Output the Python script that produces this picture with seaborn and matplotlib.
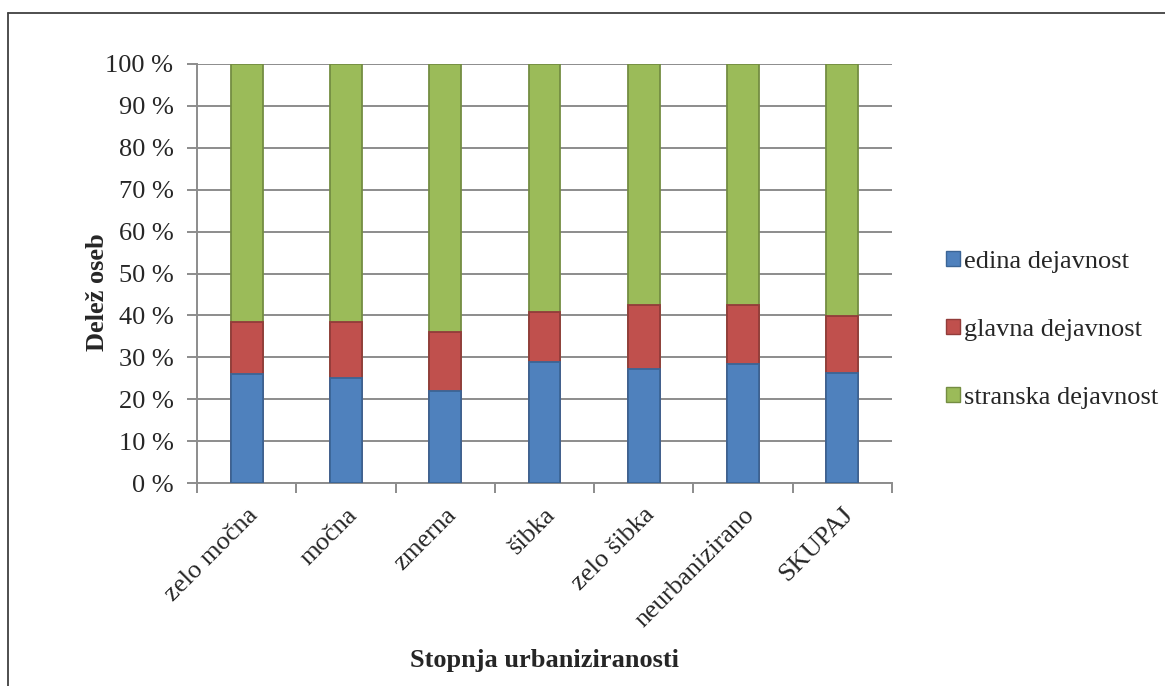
import matplotlib
matplotlib.use("Agg")
import matplotlib.pyplot as plt
from matplotlib.patches import Patch
from matplotlib.lines import Line2D
from matplotlib.ticker import FixedLocator
import seaborn as sns
import pandas as pd
import numpy as np

# Data: share of persons (%) by degree of urbanisation
categories = ["zelo močna", "močna", "zmerna", "šibka", "zelo šibka", "neurbanizirano", "SKUPAJ"]
edina = [25.9, 25.0, 22.0, 28.8, 27.2, 28.5, 26.3]
glavna = [12.5, 13.4, 14.0, 11.9, 15.3, 14.0, 13.6]
stranska = [61.6, 61.6, 64.0, 59.3, 57.5, 57.5, 60.1]
series_names = ["edina dejavnost", "glavna dejavnost", "stranska dejavnost"]
tick_vals = list(range(0, 101, 10))

face_colors = ["#4F81BD", "#C0504D", "#9BBB59"]
edge_colors = ["#3B6596", "#923C3A", "#748D42"]

sns.set_theme(style="white")
plt.rcParams["font.family"] = ["Liberation Serif", "DejaVu Serif"]
FS = 19

fig = plt.figure(figsize=(11.65, 6.86), dpi=100)
ax = fig.add_axes([197 / 1165, 1 - 483 / 686, (892 - 197) / 1165, (483 - 64) / 686])

df = pd.DataFrame({"cat": categories, "edina": edina, "glavna": glavna, "stranska": stranska})
df["c1"] = df["edina"]
df["c2"] = df["edina"] + df["glavna"]
df["c3"] = df["c2"] + df["stranska"]

# Stacked bars drawn as cumulative totals, back to front
for col, fc, ec in [("c3", face_colors[2], edge_colors[2]),
                    ("c2", face_colors[1], edge_colors[1]),
                    ("c1", face_colors[0], edge_colors[0])]:
    sns.barplot(data=df, x="cat", y=col, color=fc, edgecolor=ec, linewidth=1.3,
                width=0.32, saturation=1, ax=ax, zorder=3)

ax.set_xlim(-0.5, len(categories) - 0.5)
ax.set_ylim(0, 100)
ax.set_yticks(tick_vals)
ax.set_yticklabels([f"{v} %" for v in tick_vals], fontsize=FS)
ax.yaxis.grid(True, color="#8C8C8C", linewidth=1.4, zorder=0)
ax.xaxis.grid(False)
ax.set_axisbelow(True)

ax.set_xticks(range(len(categories)))
ax.set_xticklabels(categories, rotation=45, ha="right", rotation_mode="anchor", fontsize=FS)
ax.xaxis.set_minor_locator(FixedLocator(np.arange(-0.5, len(categories), 1.0)))
ax.tick_params(axis="x", which="major", length=0, pad=15)
ax.tick_params(axis="x", which="minor", length=7, width=1.4, color="#8C8C8C", direction="out", bottom=True)
ax.tick_params(axis="y", which="major", length=7, width=1.4, color="#8C8C8C", direction="out", left=True, pad=10)

for s in ["top", "right"]:
    ax.spines[s].set_visible(False)
for s in ["left", "bottom"]:
    ax.spines[s].set_color("#8C8C8C")
    ax.spines[s].set_linewidth(1.4)

ax.set_xlabel("Stopnja urbaniziranosti", fontsize=FS, fontweight="bold", labelpad=13)
ax.set_ylabel("Delež oseb", fontsize=FS, fontweight="bold")
ax.yaxis.set_label_coords((97 - 197) / 695, (483 - 292) / 419, transform=ax.transAxes)
ax.yaxis.label.set_va("center")

handles = [Patch(facecolor=fc, edgecolor=ec, linewidth=1.0) for fc, ec in zip(face_colors, edge_colors)]
fig.legend(handles, series_names, loc="center left", bbox_to_anchor=(928 / 1165, 1 - 330 / 686),
           frameon=False, fontsize=FS, handlelength=0.5, handleheight=0.5, handletextpad=0.15,
           labelspacing=1.75, borderpad=0.2)

# Outer chart frame (top and left edges)
frame_kw = dict(transform=fig.transFigure, color="#404040", linewidth=1.3)
fig.lines.append(Line2D([8 / 1165, 1.0], [1 - 13 / 686] * 2, **frame_kw))
fig.lines.append(Line2D([8 / 1165] * 2, [0.0, 1 - 13 / 686], **frame_kw))

fig.savefig("out.png", dpi=100)
